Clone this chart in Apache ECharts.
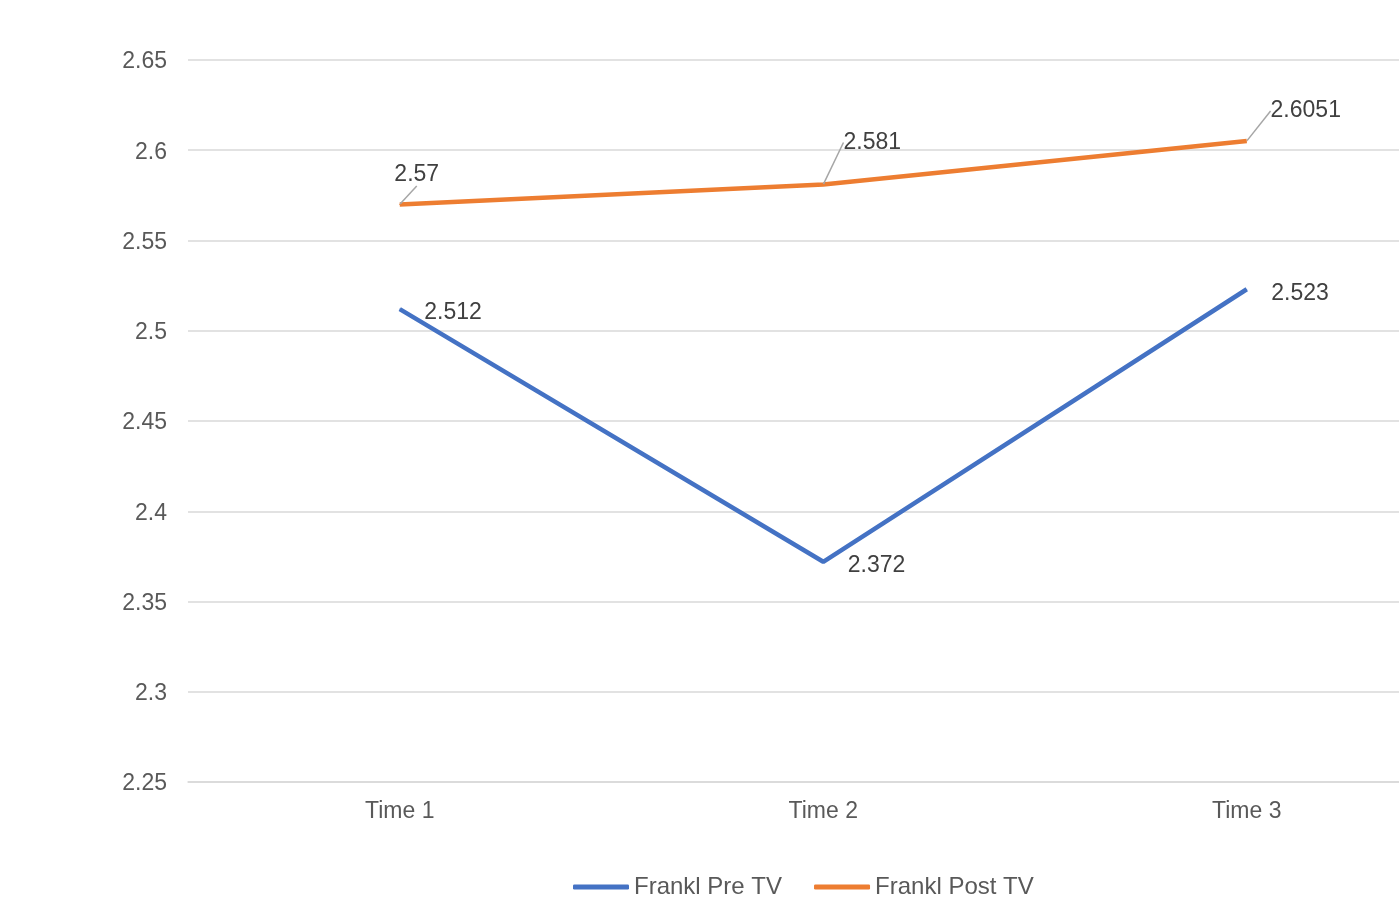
<!DOCTYPE html>
<html>
<head>
<meta charset="utf-8">
<script src="https://cdn.jsdelivr.net/npm/echarts@6/dist/echarts.min.js"></script>
<style>
html,body{margin:0;padding:0;background:#fff;}
#chart{width:1399px;height:901px;}
</style>
</head>
<body>
<div id="chart"></div>
<script>
const categories = ['Time 1', 'Time 2', 'Time 3'];
const preTV = [2.512, 2.372, 2.523];
const postTV = [2.57, 2.581, 2.6051];
const seriesNames = ['Frankl Pre TV', 'Frankl Post TV'];
const yMin = 2.25, yMax = 2.65, yStep = 0.05;

const postLabelShift = [[17, -13], [49, -25], [59, -13]];

const chart = echarts.init(document.getElementById('chart'));
chart.setOption({
  animation: false,
  textStyle: { fontFamily: 'Liberation Sans, Arial, sans-serif' },
  grid: { left: 188, top: 60, height: 722, width: 1270.5, containLabel: false, outerBoundsMode: 'none' },
  legend: {
    top: 870,
    left: 568,
    icon: 'roundRect',
    itemWidth: 56,
    itemHeight: 5,
    itemGap: 32,
    textStyle: { fontSize: 24, color: '#595959', fontFamily: 'Liberation Sans, Arial, sans-serif' },
    data: seriesNames
  },
  xAxis: {
    type: 'category',
    data: categories,
    boundaryGap: true,
    axisLine: { show: true, lineStyle: { color: '#d9d9d9', width: 1.5 } },
    axisTick: { show: false },
    axisLabel: { fontSize: 23, color: '#595959', margin: 18 }
  },
  yAxis: {
    type: 'value',
    min: yMin, max: yMax, interval: yStep,
    axisLine: { show: false },
    axisTick: { show: false },
    splitLine: { lineStyle: { color: '#d9d9d9', width: 1.5 } },
    axisLabel: {
      fontSize: 23, color: '#595959', margin: 21,
      formatter: function (v) { return '{a|' + v + '}'; },
      rich: { a: { fontSize: 23, color: '#595959', padding: [4, 0, 0, 0] } }
    }
  },
  series: [
    {
      name: seriesNames[0],
      type: 'line',
      data: preTV,
      symbol: 'circle', symbolSize: 1,
      lineStyle: { color: '#4472C4', width: 4.5 },
      itemStyle: { color: '#4472C4' },
      label: { show: true, position: 'right', distance: 24, fontSize: 23, color: '#404040',
               offset: [0, 4] }
    },
    {
      name: seriesNames[1],
      type: 'line',
      data: postTV,
      symbol: 'circle', symbolSize: 1,
      lineStyle: { color: '#ED7D31', width: 4.5 },
      itemStyle: { color: '#ED7D31' },
      label: { show: true, position: 'top', distance: 5, fontSize: 23, color: '#404040' },
      labelLine: { show: true, lineStyle: { color: '#a6a6a6', width: 1.5 } },
      labelLayout: function (params) {
        const s = postLabelShift[params.dataIndex] || [0, 0];
        return { dx: s[0], dy: s[1] };
      }
    }
  ]
});
</script>
</body>
</html>
